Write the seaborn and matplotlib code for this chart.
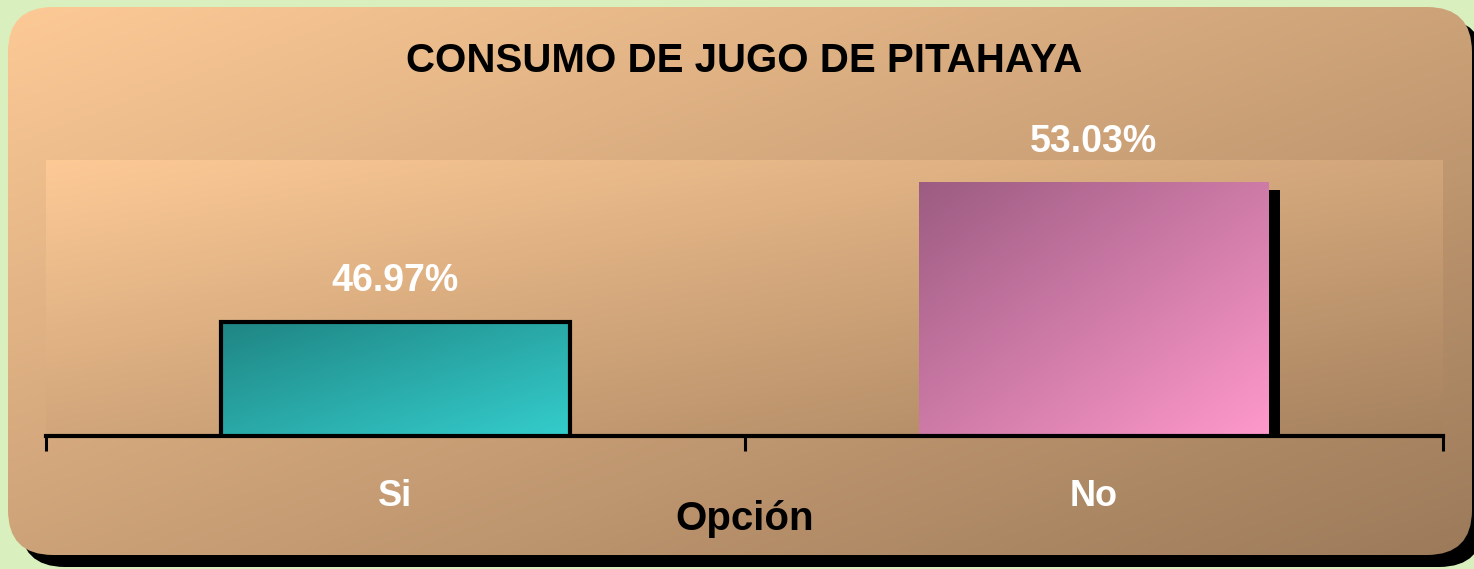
import numpy as np
import matplotlib.pyplot as plt
import matplotlib.colors as mcolors
import matplotlib.transforms as mtransforms
from matplotlib.patches import FancyBboxPatch, Rectangle
import seaborn as sns

# data
opciones = ['Si', 'No']
porcentajes = [46.97, 53.03]
etiquetas = ['46.97%', '53.03%']
titulo = 'CONSUMO DE JUGO DE PITAHAYA'
eje_x = 'Opción'

sns.set_style('white')
plt.rcParams['font.family'] = ['Liberation Sans', 'DejaVu Sans']


def gradiente(c0, c1, n=256):
    # diagonal gradient, c0 at top-left, c1 at bottom-right
    u, v = np.meshgrid(np.linspace(0, 1, n), np.linspace(0, 1, n))
    t = ((u + v) / 2)[..., None]
    a = np.array(mcolors.to_rgb(c0))
    b = np.array(mcolors.to_rgb(c1))
    return a * (1 - t) + b * t


W, H = 1474, 569
fig = plt.figure(figsize=(W / 100, H / 100), dpi=100)
fig.patch.set_facecolor('#d9f0be')

# background card with shadow
bg = fig.add_axes([0, 0, 1, 1])
bg.set_xlim(0, W)
bg.set_ylim(H, 0)
bg.axis('off')
sombra = FancyBboxPatch((20, 19), 1464, 548, boxstyle='round,pad=0,rounding_size=45',
                        facecolor='black', edgecolor='none', zorder=0)
bg.add_patch(sombra)
tarjeta = FancyBboxPatch((8, 7), 1464, 548, boxstyle='round,pad=0,rounding_size=45',
                         facecolor='none', edgecolor='none', zorder=0)
bg.add_patch(tarjeta)
img = bg.imshow(gradiente('#fdca96', '#9c7a5a'), extent=(8, 1472, 555, 7),
                origin='upper', aspect='auto', interpolation='bilinear', zorder=1)
img.set_clip_path(tarjeta)

# plot area
ax = fig.add_axes([46 / W, (H - 436) / H, 1397 / W, 276 / H])
sns.barplot(x=opciones, y=porcentajes, hue=opciones, palette=['#2aa9a8', '#d880b0'],
            width=0.5, legend=False, ax=ax)
ax.set_xlim(-0.5, 1.5)
ax.set_ylim(42, 54)
ax.set_facecolor('none')

ax.imshow(gradiente('#fdca96', '#a6825f'), extent=(-0.5, 1.5, 42, 54),
          origin='upper', aspect='auto', zorder=0, interpolation='bilinear')

colores_bar = [('#1f8583', '#34cdcc'), ('#9c5c82', '#ff99cc')]
for i, bar in enumerate(ax.patches):
    x0, w, h = bar.get_x(), bar.get_width(), bar.get_height()
    bar.set_facecolor('none')
    bar.set_zorder(3)
    g = ax.imshow(gradiente(*colores_bar[i]), extent=(x0, x0 + w, 42, h),
                  origin='upper', aspect='auto', zorder=2, interpolation='bilinear')
    g.set_clip_path(bar)
    if i == 0:
        bar.set_edgecolor('black')
        bar.set_linewidth(3)
    else:
        bar.set_edgecolor('none')
        off = mtransforms.ScaledTranslation(0.12, -0.08, fig.dpi_scale_trans)
        sh = Rectangle((x0, 0), w, h, facecolor='black', edgecolor='none',
                       transform=ax.transData + off, zorder=1.5)
        ax.add_patch(sh)
    ax.annotate(etiquetas[i], (x0 + w / 2, h), xytext=(0, 22), textcoords='offset points',
                ha='center', va='baseline', color='white', fontsize=27, fontweight='bold')

ax.set_xlim(-0.5, 1.5)
ax.set_ylim(42, 54)

for s in ['left', 'top', 'right']:
    ax.spines[s].set_visible(False)
ax.spines['bottom'].set_color('black')
ax.spines['bottom'].set_linewidth(3)
ax.set_yticks([])
ax.set_ylabel('')
ax.set_xticks([-0.5, 0.5, 1.5])
ax.set_xticklabels([])
ax.tick_params(axis='x', which='major', bottom=True, length=11, width=2.2,
               color='black', direction='out')
ax.set_xticks([0, 1], minor=True)
ax.set_xticklabels(opciones, minor=True)
ax.tick_params(axis='x', which='minor', bottom=True, length=0, pad=31, labelsize=26,
               labelcolor='white')
for lab in ax.get_xticklabels(minor=True):
    lab.set_fontweight('bold')

ax.set_xlabel(eje_x, fontsize=29, fontweight='bold', color='black')
ax.xaxis.set_label_coords(0.5, -0.34)
ax.xaxis.label.set_va('baseline')

ax.set_title(titulo, pad=63, fontsize=29, fontweight='bold', color='black')

fig.savefig('out.png', dpi=100, facecolor=fig.get_facecolor())
